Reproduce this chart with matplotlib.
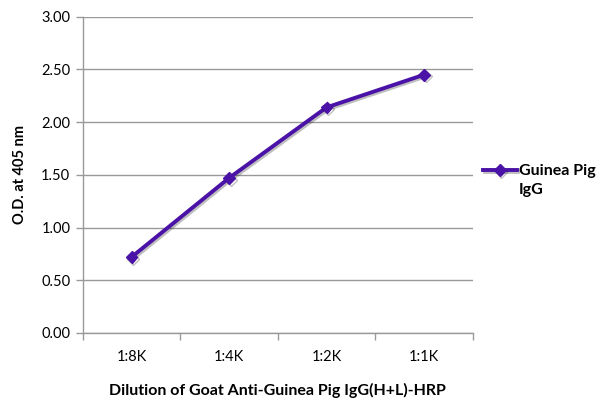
import matplotlib
matplotlib.use("Agg")
import matplotlib.pyplot as plt
import matplotlib.patheffects as pe
from matplotlib.legend_handler import HandlerLine2D
import numpy as np

categories = ['1:8K', '1:4K', '1:2K', '1:1K']
od_values = [0.72, 1.47, 2.14, 2.45]
series_name = 'Guinea Pig\nIgG'
y_ticks = [0.0, 0.5, 1.0, 1.5, 2.0, 2.5, 3.0]

plt.rcParams['font.family'] = ['Lato', 'DejaVu Sans']


class RaisedLineHandler(HandlerLine2D):
    # put the legend handle next to the first line of a two-line label
    def create_artists(self, legend, orig_handle, xdescent, ydescent,
                       width, height, fontsize, trans):
        artists = super().create_artists(legend, orig_handle, xdescent, ydescent,
                                         width, height, fontsize, trans)
        for a in artists:
            a.set_ydata(np.asarray(a.get_ydata()) + 7.5)
        return artists


fig = plt.figure(figsize=(6, 4.09), dpi=100)
ax = fig.add_axes([0.138, 0.186, 0.650, 0.773])

x = np.arange(len(categories))
line_color = '#4A12A6'
line, = ax.plot(x, od_values, color=line_color, linewidth=2.8, marker='D',
                markersize=6, label=series_name, zorder=3,
                path_effects=[pe.SimpleLineShadow(offset=(1.2, -1.2), alpha=0.25),
                              pe.Normal()])

ax.set_xlim(-0.5, len(categories) - 0.5)
ax.set_ylim(0, 3.0)
ax.set_yticks(y_ticks)
ax.set_yticklabels([f'{v:.2f}' for v in y_ticks], fontsize=10.5)
ax.set_xticks(x)
ax.set_xticklabels(categories, fontsize=10.5)
ax.set_xticks(np.arange(-0.5, len(categories)), minor=True)
ax.tick_params(axis='x', which='major', length=0, pad=12)
ax.tick_params(axis='x', which='minor', length=5, color='#999999', width=1)
ax.tick_params(axis='y', length=5, color='#999999', width=1, pad=4)

ax.grid(True, axis='y', color='#999999', linewidth=1)
ax.set_axisbelow(True)
for side in ['top', 'right']:
    ax.spines[side].set_visible(False)
for side in ['left', 'bottom']:
    ax.spines[side].set_color('#999999')
    ax.spines[side].set_linewidth(1)

ax.set_xlabel('Dilution of Goat Anti-Guinea Pig IgG(H+L)-HRP', fontsize=11.5,
              fontweight='bold', labelpad=14)
ax.set_ylabel('O.D. at 405 nm', fontsize=10.5, fontweight='bold', labelpad=10)

leg = ax.legend(loc='upper left', bbox_to_anchor=(483 / 600, 1 - 164 / 409),
                bbox_transform=fig.transFigure, frameon=False, borderpad=0,
                borderaxespad=0, prop={'size': 11.5, 'weight': 'bold'},
                handlelength=2.1, handletextpad=0.15,
                handler_map={line: RaisedLineHandler()})
for t in leg.get_texts():
    t.set_linespacing(1.45)

fig.savefig('out.png', dpi=100)
